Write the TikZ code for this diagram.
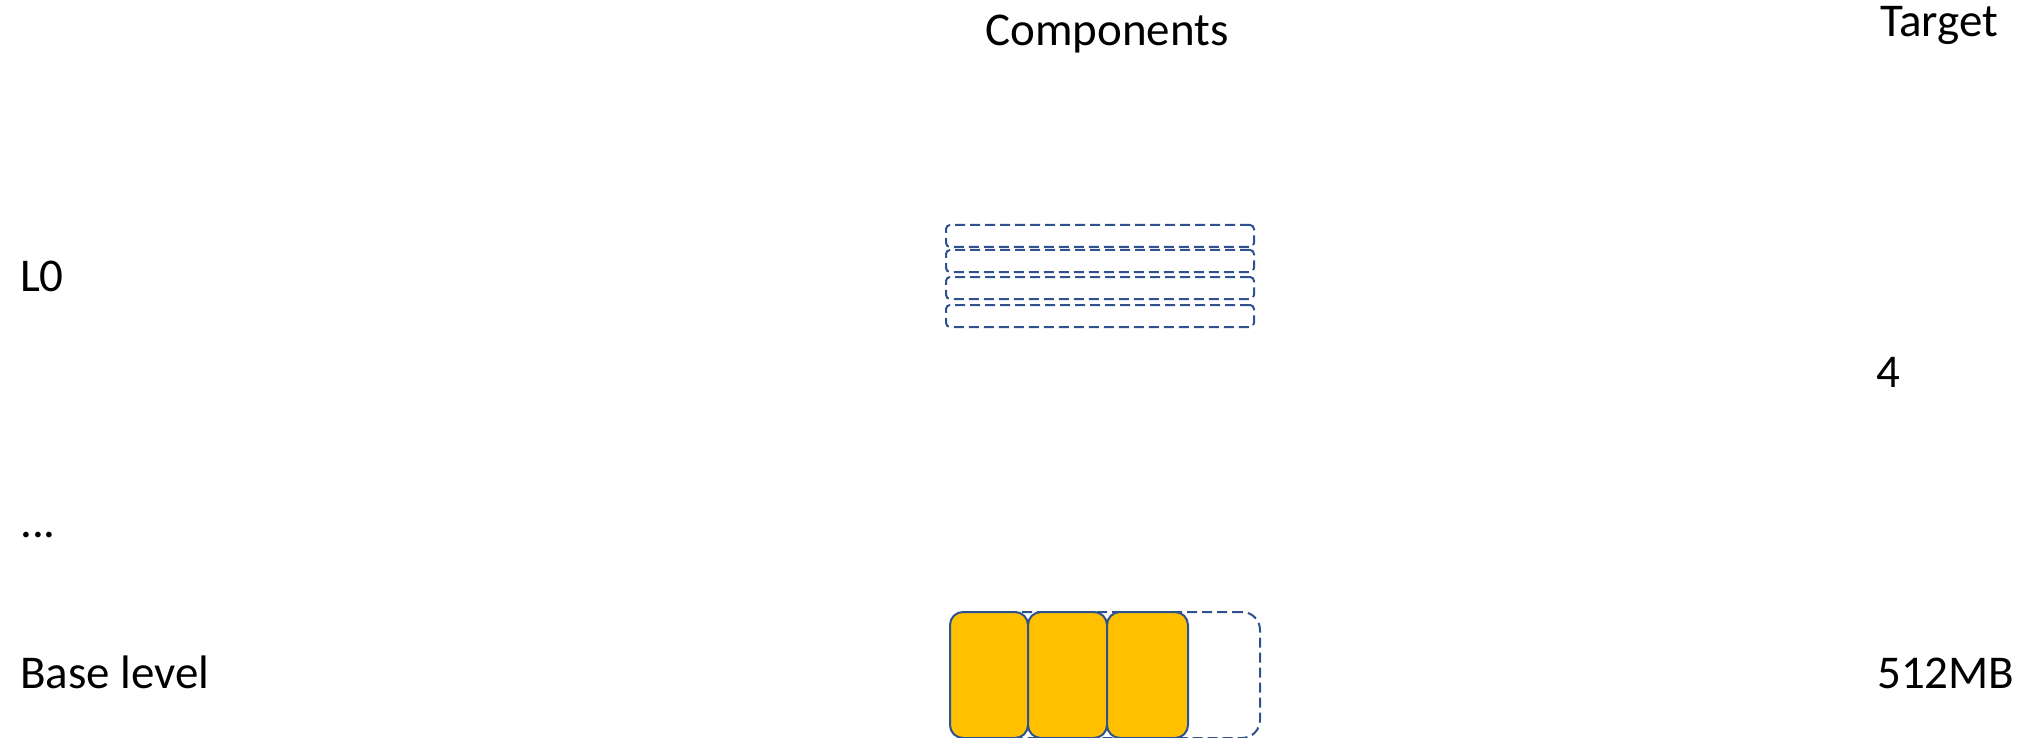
\documentclass[tikz,border=0pt]{standalone}
\usepackage{fontspec}
\setmainfont{Carlito}
\definecolor{edge}{HTML}{2F528F}
\definecolor{fillY}{HTML}{FFC000}
\begin{document}
\begin{tikzpicture}[x=1pt,y=-1pt,
  lbl/.style={anchor=base west,inner sep=0pt,font=\fontsize{47}{56}\selectfont},
  slot/.style={draw=edge,line width=2pt,dash pattern=on 10pt off 5pt,rounded corners=4pt,anchor=north west,inner sep=0pt,minimum width=308pt,minimum height=22pt},
  bigslot/.style={draw=edge,line width=2pt,dash pattern=on 10pt off 5pt,rounded corners=18pt,anchor=north west,inner sep=0pt,minimum width=310pt,minimum height=126pt},
  comp/.style={draw=edge,line width=2pt,fill=fillY,rounded corners=13pt,anchor=north west,inner sep=0pt,minimum height=126pt}]
\useasboundingbox (0,0) rectangle (2027,738);
% headers
\node[lbl] (hcomp) at (985,46) {Components};
\node[lbl] (htarget) at (1880,37) {Target};
% left labels
\node[lbl] (l0) at (20,291) {L0};
\node[lbl] (dots) at (20,537) {...};
\node[lbl] (base) at (20,688) {Base level};
% targets
\node[lbl] (t4) at (1876,387) {4};
\node[lbl] (t512) at (1877,688) {512MB};
% L0 slots
\node[slot] (s1) at (945,224) {};
\node[slot] (s2) at (945,249) {};
\node[slot] (s3) at (945,276) {};
\node[slot] (s4) at (945,304) {};
% base level
\node[bigslot] (bs) at (949,611) {};
\node[comp,minimum width=78pt] (c1) at (949,611) {};
\node[comp,minimum width=79pt] (c2) at (1027,611) {};
\node[comp,minimum width=81pt] (c3) at (1106,611) {};
\end{tikzpicture}
\end{document}
